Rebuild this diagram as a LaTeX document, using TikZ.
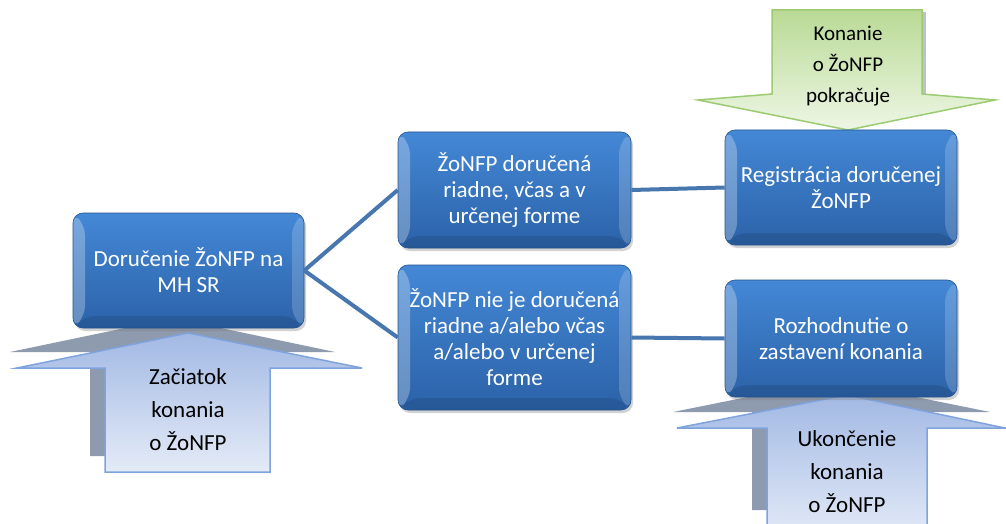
\documentclass[tikz,border=0pt]{standalone}
\usepackage{fontspec}
\setmainfont{Carlito}
\usetikzlibrary{shadows}
\definecolor{boxtop}{HTML}{4488D6}
\definecolor{boxbot}{HTML}{2B62A8}
\definecolor{boxline}{HTML}{24548E}
\definecolor{conn}{HTML}{4877B0}
\definecolor{upshadow}{HTML}{8E9AAE}
\definecolor{upline}{HTML}{7FA3DD}
\definecolor{uptop}{HTML}{A2B9E4}
\definecolor{upbot}{HTML}{E4EBF7}
\definecolor{grtop}{HTML}{B9DA95}
\definecolor{grbot}{HTML}{EEF6E5}
\definecolor{grline}{HTML}{9CCB72}
\tikzset{
  bluebox/.style={rounded corners=10pt, top color=boxtop, bottom color=boxbot,
    draw=boxline, line width=0.6pt, text=white, align=center,
    font=\fontsize{23}{26}\selectfont, inner sep=2pt,
    drop shadow={shadow xshift=2pt, shadow yshift=-3pt, opacity=0.35},
    path picture={
      \fill[white, opacity=0.28] (path picture bounding box.north west)
        -- ++(12pt,-12pt) -- ([xshift=12pt,yshift=12pt]path picture bounding box.south west)
        -- (path picture bounding box.south west) -- cycle;
      \fill[white, opacity=0.18] (path picture bounding box.north east)
        -- ++(-12pt,-12pt) -- ([xshift=-12pt,yshift=12pt]path picture bounding box.south east)
        -- (path picture bounding box.south east) -- cycle;
      \fill[black, opacity=0.10] (path picture bounding box.south west)
        -- ++(12pt,12pt) -- ([xshift=-12pt,yshift=12pt]path picture bounding box.south east)
        -- (path picture bounding box.south east) -- cycle;
    }},
  conline/.style={draw=conn, line width=4pt},
  arrowtext/.style={align=center, text=black, font=\fontsize{23}{33}\selectfont},
  uparrow/.style={draw=upline, line width=1.5pt, top color=uptop, bottom color=upbot, line join=miter},
  shadowarrow/.style={fill=upshadow},
  grarrow/.style={draw=grline, line width=1.5pt, top color=grtop, bottom color=grbot}
}
\begin{document}
\begin{tikzpicture}[x=1pt, y=-1pt]
\useasboundingbox (0,0) rectangle (1006,524);
\clip (0,0) rectangle (1006,524);
\fill[white] (0,0) rectangle (1006,524);

% green arrow (Konanie o ZoNFP pokracuje)
\fill[upshadow!60] (922,12) -- (926,12) -- (926,95) -- (922,95) -- cycle;
\path[grarrow] (772,10) -- (922,10) -- (922,94) -- (995,100) -- (848,130)
  -- (698,100) -- (772,94) -- cycle;
\node[arrowtext, font=\fontsize{21}{31}\selectfont] (konanie) at (848,66) {Konanie\\o ŽoNFP\\pokračuje};

% up arrow (Zaciatok)
\path[shadowarrow] (10,352) -- (173,318) -- (335,352) -- (255,352) -- (255,456)
  -- (90,456) -- (90,352) -- cycle;
\path[uparrow] (17,368) -- (188,333) -- (362,368) -- (270,368) -- (270,472)
  -- (105,472) -- (105,368) -- cycle;
\node[arrowtext] (zaciatok) at (188,410) {Začiatok\\konania\\o ŽoNFP};

% up arrow (Ukoncenie)
\path[shadowarrow] (673,412) -- (832,380) -- (990,412) -- (912,412) -- (912,510)
  -- (752,510) -- (752,412) -- cycle;
\path[uparrow] (677,428) -- (847,395) -- (1005,428) -- (927,428) -- (927,540)
  -- (767,540) -- (767,428) -- cycle;
\node[arrowtext] (ukoncenie) at (847,472) {Ukončenie\\konania\\o ŽoNFP};

% boxes
\node[bluebox, minimum width=231pt, minimum height=115pt] (b1) at (188.5,270.5)
  {Doručenie ŽoNFP na\\MH SR};
\node[bluebox, minimum width=233pt, minimum height=116pt] (b2) at (514.5,190)
  {ŽoNFP doručená\\riadne, včas a v\\určenej forme};
\node[bluebox, minimum width=233pt, minimum height=145pt] (b3) at (514.5,337.5)
  {ŽoNFP nie je doručená\\riadne a/alebo včas\\a/alebo v určenej\\forme};
\node[bluebox, minimum width=232pt, minimum height=115pt] (b4) at (841,187.5)
  {Registrácia doručenej\\ŽoNFP};
\node[bluebox, minimum width=232pt, minimum height=117pt] (b5) at (841,338.5)
  {Rozhodnutie o\\zastavení konania};

% connectors
\draw[conline] (b1.east) -- (b2.west);
\draw[conline] (b1.east) -- (b3.west);
\draw[conline] (b2.east) -- (b4.west);
\draw[conline] (b3.east) -- (b5.west);
\end{tikzpicture}
\end{document}
